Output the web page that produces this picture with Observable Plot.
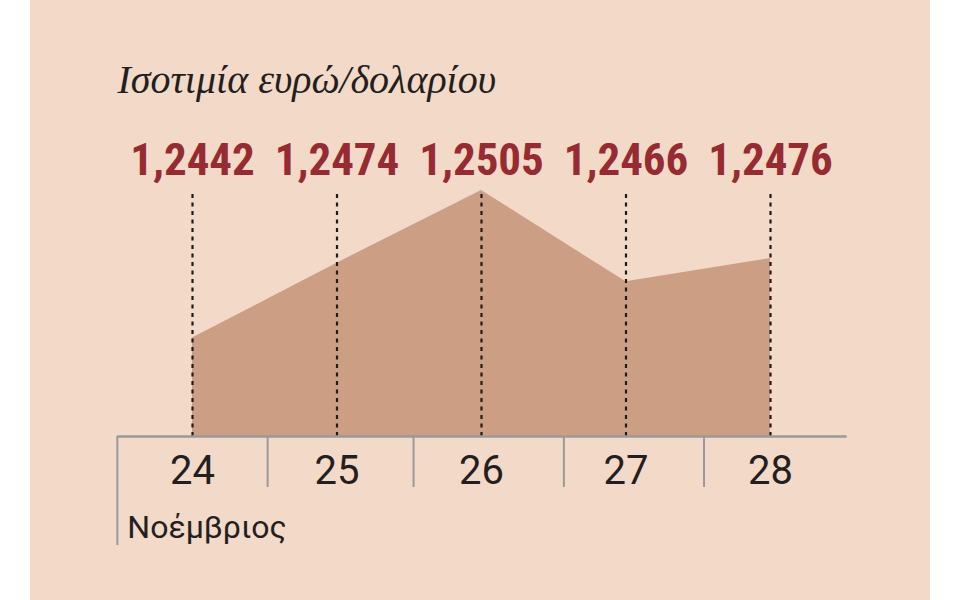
<!DOCTYPE html>
<html>
<head>
<meta charset="utf-8">
<script src="https://cdn.jsdelivr.net/npm/d3@7"></script>
<script src="https://cdn.jsdelivr.net/npm/@observablehq/plot@0.6"></script>
<style>
  html, body { margin: 0; padding: 0; background: #ffffff; }
  #wrap { position: relative; width: 960px; height: 600px; overflow: hidden; }
  #panel { position: absolute; left: 30px; top: 0; width: 900px; height: 600px; background: #f2d9c8; }
  #chart { position: absolute; left: 0; top: 0; }
</style>
</head>
<body>
<div id="wrap"><div id="panel"></div><div id="chart"></div></div>
<script>
// ---- data ----
const title = "Ισοτιμία ευρώ/δολαρίου";
const monthLabel = "Νοέμβριος";
const days = [24, 25, 26, 27, 28];
const rates = [1.2442, 1.2474, 1.2505, 1.2466, 1.2476];
const separators = [24.52, 25.53, 26.57, 27.54];
const axisStart = 23.48;
const axisEnd = 28.53;
const yBase = 1.24;

// ---- build ----
const data = days.map((d, i) => ({
  day: d,
  rate: rates[i],
  label: rates[i].toFixed(4).replace(".", ",")
}));
const yTop = d3.max(rates);

const chart = Plot.plot({
  width: 960,
  height: 600,
  marginLeft: 192,
  marginRight: 190,
  marginTop: 190,
  marginBottom: 164,
  x: {domain: [24, 28], axis: null},
  y: {domain: [yBase, yTop], axis: null},
  style: {background: "transparent", overflow: "visible"},
  marks: [
    Plot.areaY(data, {x: "day", y1: yBase, y2: "rate", fill: "#cc9f85", curve: "linear"}),
    Plot.ruleX(data, {x: "day", y1: yBase, y2: yTop, stroke: "#1c1c1c", strokeWidth: 2.2, strokeDasharray: "4,4.5"}),
    Plot.ruleY([yBase], {x1: axisStart, x2: axisEnd, stroke: "#9a9a9a", strokeWidth: 2.5}),
    Plot.ruleX(separators, {x: d => d, insetTop: 246, insetBottom: -51, stroke: "#9a9a9a", strokeWidth: 2}),
    Plot.ruleX([axisStart], {x: d => d, insetTop: 246, insetBottom: -109, stroke: "#9a9a9a", strokeWidth: 2}),
    Plot.text(data, {x: "day", text: "label", frameAnchor: "top", dy: -16, lineAnchor: "bottom",
      fill: "#962b32", fontFamily: "'Liberation Sans Narrow', 'Roboto Condensed', Roboto, sans-serif",
      fontWeight: "bold", fontSize: 45}),
    Plot.text(data, {x: "day", text: d => String(d.day), frameAnchor: "bottom", dy: 47, lineAnchor: "bottom",
      fill: "#231f20", fontFamily: "Roboto, sans-serif", fontSize: 40}),
    Plot.text([{x: axisStart, t: monthLabel}], {x: "x", text: "t", frameAnchor: "bottom", dx: 10, dy: 101,
      lineAnchor: "bottom", textAnchor: "start", fill: "#231f20", fontFamily: "Roboto, sans-serif", fontSize: 32}),
    Plot.text([title], {frameAnchor: "top-left", dx: -75, dy: -98, lineAnchor: "bottom", textAnchor: "start",
      fill: "#231f20", fontFamily: "'Liberation Serif', serif", fontStyle: "italic", fontSize: 40})
  ]
});
document.getElementById("chart").appendChild(chart);
</script>
</body>
</html>
